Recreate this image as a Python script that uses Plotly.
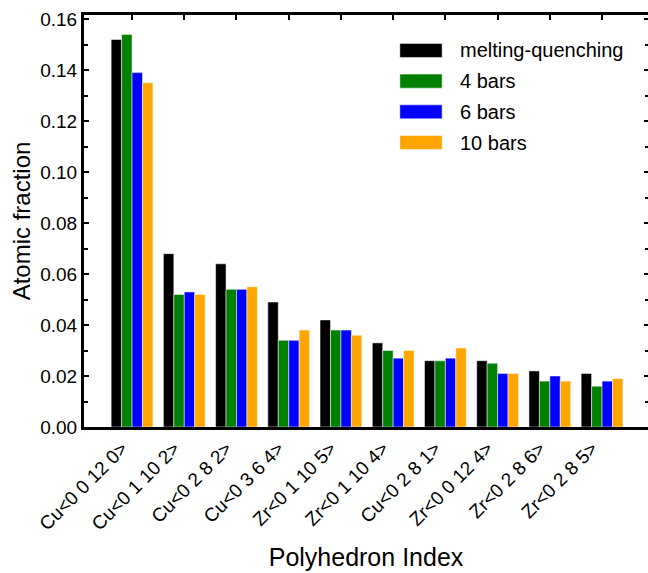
import plotly.graph_objects as go

categories = ["Cu<0 0 12 0>", "Cu<0 1 10 2>", "Cu<0 2 8 2>", "Cu<0 3 6 4>", "Zr<0 1 10 5>",
              "Zr<0 1 10 4>", "Cu<0 2 8 1>", "Zr<0 0 12 4>", "Zr<0 2 8 6>", "Zr<0 2 8 5>"]
series_names = ["melting-quenching", "4 bars", "6 bars", "10 bars"]
melting_quenching = [0.152, 0.068, 0.064, 0.049, 0.042, 0.033, 0.026, 0.026, 0.022, 0.021]
bars_4 = [0.154, 0.052, 0.054, 0.034, 0.038, 0.030, 0.026, 0.025, 0.018, 0.016]
bars_6 = [0.139, 0.053, 0.054, 0.034, 0.038, 0.027, 0.027, 0.021, 0.020, 0.018]
bars_10 = [0.135, 0.052, 0.055, 0.038, 0.036, 0.030, 0.031, 0.021, 0.018, 0.019]
colors = ["#000000", "#008000", "#0000FF", "#FFA500"]
y_ticks = [0.00, 0.02, 0.04, 0.06, 0.08, 0.10, 0.12, 0.14, 0.16]

font = "Liberation Sans, Arial, sans-serif"
xpos = list(range(len(categories)))

fig = go.Figure()
for name, vals, c in zip(series_names, [melting_quenching, bars_4, bars_6, bars_10], colors):
    fig.add_trace(go.Bar(x=xpos, y=vals, name=name, showlegend=False,
                         marker=dict(color=c, line=dict(color="white", width=0.5))))

# helper (invisible) trace so the top and right tick axes are drawn
fig.add_trace(go.Scatter(x=xpos, y=[None] * len(xpos), xaxis="x2", yaxis="y2",
                         showlegend=False, hoverinfo="skip", mode="markers"))

# legend drawn as wide swatches (paper coordinates of the plot area)
leg_x0, leg_x1, leg_tx = 0.560, 0.635, 0.663
leg_top, leg_step, leg_half = 0.914, 0.0745, 0.017
for i, (name, c) in enumerate(zip(series_names, colors)):
    yc = leg_top - i * leg_step
    fig.add_shape(type="rect", xref="paper", yref="paper", x0=leg_x0, x1=leg_x1,
                  y0=yc - leg_half, y1=yc + leg_half, fillcolor=c,
                  line=dict(color="white", width=0.5), layer="above")
    fig.add_annotation(xref="paper", yref="paper", x=leg_tx, y=yc, text=name,
                       showarrow=False, xanchor="left", yanchor="middle",
                       font=dict(size=20, family=font, color="black"))

xr = [-0.92, 9.88]
yr = [0, 0.1616]
fig.update_layout(
    width=648, height=573,
    margin=dict(l=84, r=0, t=15, b=146),
    paper_bgcolor="white", plot_bgcolor="white",
    barmode="group", bargap=0.2, bargroupgap=0,
    font=dict(family=font, size=19, color="black"),
    xaxis=dict(range=xr, tickmode="array", tickvals=xpos, ticktext=categories,
               tickangle=-45, ticks="", showline=True, linecolor="black", linewidth=3,
               showgrid=False, zeroline=False, tickfont=dict(size=19), automargin=False,
               ticklabelshift=-10,
               title=dict(text="Polyhedron Index", font=dict(size=25), standoff=16)),
    xaxis2=dict(range=xr, overlaying="x", side="top", anchor="y2", tickmode="array",
                tickvals=xpos, showticklabels=False, ticks="inside", ticklen=5,
                tickwidth=2, tickcolor="black", showline=True, linecolor="black",
                linewidth=3, showgrid=False, zeroline=False, automargin=False),
    yaxis=dict(range=yr, tickmode="array", tickvals=y_ticks, tickformat=".2f",
               ticks="inside", ticklen=5, tickwidth=2, tickcolor="black",
               showline=True, linecolor="black", linewidth=3, mirror=False,
               showgrid=False, zeroline=False, tickfont=dict(size=19), automargin=False,
               minor=dict(dtick=0.01, tick0=0, ticks="inside", ticklen=4, tickwidth=2, tickcolor="black", showgrid=False),
               title=dict(text="Atomic fraction", font=dict(size=24), standoff=3)),
    yaxis2=dict(range=yr, overlaying="y", side="right", anchor="x2", tickmode="array",
                tickvals=y_ticks, showticklabels=False, ticks="inside", ticklen=4,
                tickwidth=2, tickcolor="black", showline=False, showgrid=False,
                zeroline=False, automargin=False,
                minor=dict(dtick=0.01, tick0=0, ticks="inside", ticklen=3, tickwidth=2, tickcolor="black", showgrid=False)),
    showlegend=False,
)

fig.write_html("out.html", config={"displayModeBar": False},
               post_script="document.body.style.margin='0';document.body.style.overflow='hidden';")
